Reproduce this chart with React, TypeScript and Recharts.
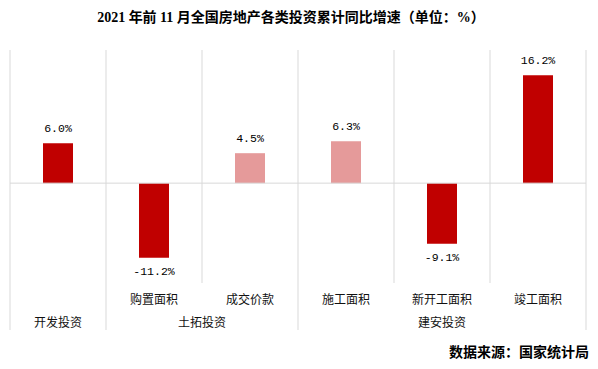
import React from 'react';
import { BarChart, Bar, XAxis, YAxis, CartesianGrid, ReferenceLine, Cell, LabelList } from 'recharts';

// ---- data ----
const categories = ['开发投资', '购置面积', '成交价款', '施工面积', '新开工面积', '竣工面积'];
const tickLabels = ['', '购置面积', '成交价款', '施工面积', '新开工面积', '竣工面积'];
const growth = [6.0, -11.2, 4.5, 6.3, -9.1, 16.2];
const groupNames = ['开发投资', '土拓投资', '建安投资'];
const groupSpans = [1, 2, 3];
const yDomain: [number, number] = [-15, 20];

const title = '2021 年前 11 月全国房地产各类投资累计同比增速（单位：%）';
const source = '数据来源：国家统计局';

// ---- styles ----
const barColors = ['#C00000', '#C00000', '#E59A9A', '#E59A9A', '#C00000', '#C00000'];
const GRID = '#D9D9D9';
const WIDTH = 598;
const HEIGHT = 369;
const MARGIN = { top: 50, right: 12, left: 10, bottom: 0 };
const X_AXIS_H = 86;
const PLOT_W = WIDTH - MARGIN.left - MARGIN.right;
const PLOT_BOTTOM = HEIGHT - MARGIN.bottom - X_AXIS_H;
const CJK = '"Noto Sans CJK SC", "Noto Sans", sans-serif';

const data = categories.map((c, i) => ({ name: c, value: growth[i] }));

const groupStarts: number[] = [];
groupSpans.reduce((acc, s) => {
  groupStarts.push(acc);
  return acc + s;
}, 0);

const CategoryTick = (props: any) => {
  const { x, payload } = props;
  const i = payload.index;
  const n = categories.length;
  const band = PLOT_W / n;
  const y0 = PLOT_BOTTOM;
  const els: any[] = [];
  if (tickLabels[i]) {
    els.push(
      <text key="t" x={x} y={y0 + 15} textAnchor="middle" dominantBaseline="central"
        fontSize={12} fontFamily={CJK} fill="#111">{tickLabels[i]}</text>
    );
  }
  const g = groupStarts.indexOf(i);
  if (g >= 0) {
    const left = x - band / 2;
    els.push(
      <line key="l" x1={left} x2={left} y1={y0} y2={y0 + 47} stroke={GRID} strokeWidth={1} />
    );
    els.push(
      <text key="g" x={left + (groupSpans[g] * band) / 2} y={y0 + 38} textAnchor="middle"
        dominantBaseline="central" fontSize={12} fontFamily={CJK} fill="#111">{groupNames[g]}</text>
    );
  }
  if (i === n - 1) {
    const right = x + band / 2;
    els.push(
      <line key="r" x1={right} x2={right} y1={y0} y2={y0 + 47} stroke={GRID} strokeWidth={1} />
    );
  }
  return <g>{els}</g>;
};

const ValueLabel = (props: any) => {
  const { x, y, width, height, value } = props;
  const top = Math.min(y, y + height);
  const bottom = Math.max(y, y + height);
  const cx = x + width / 2;
  const ty = value >= 0 ? top - 15 : bottom + 14;
  return (
    <text x={cx} y={ty} textAnchor="middle" dominantBaseline="central"
      fontSize={11.5} fontFamily='"Liberation Mono", "DejaVu Sans Mono", monospace' fill="#000">
      {value.toFixed(1) + '%'}
    </text>
  );
};

export default function App() {
  return (
    <div style={{ position: 'absolute', left: 0, top: 0, width: WIDTH, height: HEIGHT, background: '#fff' }}>
      <BarChart width={WIDTH} height={HEIGHT} data={data} margin={MARGIN}>
        <CartesianGrid
          horizontal={false}
          vertical
          stroke={GRID}
          verticalCoordinatesGenerator={({ offset }: any) =>
            Array.from({ length: categories.length + 1 }, (_, k) => offset.left + (k * offset.width) / categories.length)
          }
        />
        <XAxis dataKey="name" height={X_AXIS_H} axisLine={false} tickLine={false} interval={0} tick={<CategoryTick />} />
        <YAxis hide domain={yDomain} />
        <ReferenceLine y={0} stroke={GRID} strokeWidth={1} />
        <Bar dataKey="value" barSize={30} isAnimationActive={false}>
          {data.map((d, i) => (
            <Cell key={d.name} fill={barColors[i]} />
          ))}
          <LabelList dataKey="value" content={<ValueLabel />} />
        </Bar>
      </BarChart>
      <div style={{ position: 'absolute', left: 0, width: 582, top: 8, textAlign: 'center',
        fontFamily: '"Liberation Serif", "Noto Sans CJK SC", serif', fontWeight: 700, fontSize: 14, lineHeight: '20px', color: '#000' }}>
        {title}
      </div>
      <div style={{ position: 'absolute', right: 9, top: 341, fontFamily: CJK, fontWeight: 700,
        fontSize: 14, lineHeight: '20px', color: '#000' }}>
        {source}
      </div>
    </div>
  );
}
